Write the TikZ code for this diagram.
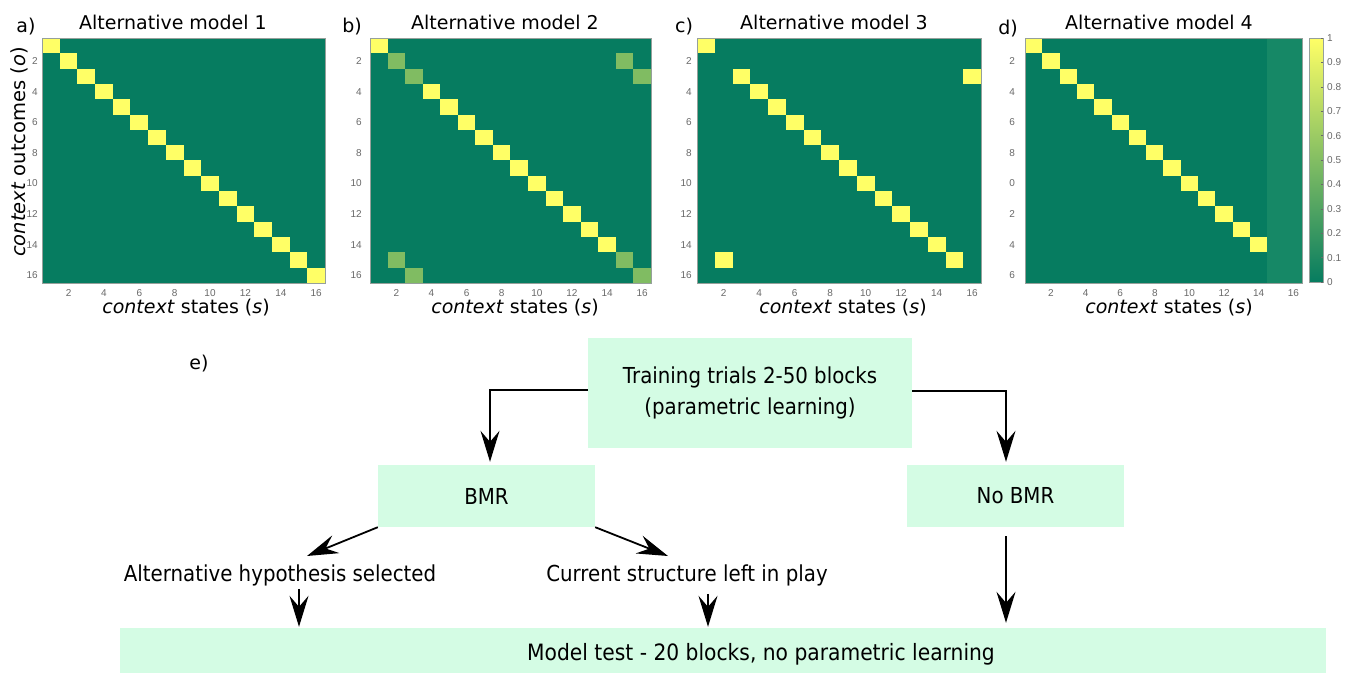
\documentclass[tikz,border=0pt]{standalone}
\usepackage{fontspec}
\setmainfont{DejaVu Sans}
\newfontfamily\flowfont[FakeStretch=0.9]{DejaVu Sans}
\newfontfamily\tickfont{Liberation Sans}
\usetikzlibrary{arrows.meta,calc}

% summer colour map end points and intermediate values
\definecolor{mzero}{RGB}{6,124,96}
\definecolor{mone}{RGB}{255,255,102}
\definecolor{mhalf}{RGB}{128,188,98}
\definecolor{mlow}{RGB}{22,136,102}
\definecolor{boxfill}{RGB}{212,252,228}
\definecolor{ticktext}{RGB}{105,105,105}
\definecolor{frame}{RGB}{150,160,155}

\tikzset{
  paneltitle/.style={font=\fontsize{19}{22}\selectfont, inner sep=0pt},
  panelletter/.style={font=\fontsize{19}{22}\selectfont, inner sep=0pt},
  axislabel/.style={font=\fontsize{19}{22}\selectfont, inner sep=0pt},
  ylabelstyle/.style={font=\fontsize{19.5}{22}\selectfont, inner sep=0pt, rotate=90},
  xtick/.style={font=\tickfont\fontsize{10}{12}\selectfont, text=ticktext, inner sep=0pt, yshift=-10pt},
  ytick/.style={font=\tickfont\fontsize{10}{12}\selectfont, text=ticktext, inner sep=0pt, anchor=east},
  cbtick/.style={font=\tickfont\fontsize{10}{12}\selectfont, text=ticktext, inner sep=0pt, anchor=west},
  axisframe/.style={draw=frame, line width=0.6pt},
  flowbox/.style={fill=boxfill, draw=none, inner sep=0pt, align=center,
                  font=\flowfont\fontsize{22}{31}\selectfont},
  flowtext/.style={inner sep=3pt, font=\flowfont\fontsize{22}{26}\selectfont},
  arr/.style={draw=black, line width=1.8pt,
              -{Stealth[length=31pt, width=19pt, inset=11pt]}},
}

\begin{document}
\begin{tikzpicture}[x=1pt, y=-1pt]
\useasboundingbox (0,0) rectangle (1346,672);
\fill[white] (0,0) rectangle (1346,672);

% ---------------- panel a: identity mapping ----------------
\begin{scope}[shift={(42,38)}, x=17.69pt, y=-15.31pt]
  \fill[mzero] (0,0) rectangle (16,16);
  \foreach \k in {1,...,16} \fill[mone] (\k-1,\k-1) rectangle (\k,\k);
  \draw[axisframe] (0,0) rectangle (16,16);
  \foreach \k in {2,4,...,16} {
    \node[xtick] (ax\k) at (\k-0.5,16) {\k};
    \node[ytick, xshift=-4pt] (ay\k) at (0,\k-0.5) {\k};
  }
\end{scope}
\node[paneltitle] (ta) at (173,22) {Alternative model 1};
\node[panelletter] (la) at (26,27) {a)};
\node[axislabel] (xa) at (186,308) {\textit{context} states (\textit{s})};
\node[ylabelstyle] (ya) at (19,152) {\textit{context} outcomes (\textit{o})};

% ---------------- panel b: split probability ----------------
\begin{scope}[shift={(370,38)}, x=17.56pt, y=-15.31pt]
  \fill[mzero] (0,0) rectangle (16,16);
  \foreach \k in {1,4,5,6,7,8,9,10,11,12,13,14}
    \fill[mone] (\k-1,\k-1) rectangle (\k,\k);
  \foreach \r/\c in {2/2,3/3,2/15,3/16,15/2,16/3,15/15,16/16}
    \fill[mhalf] (\c-1,\r-1) rectangle (\c,\r);
  \draw[axisframe] (0,0) rectangle (16,16);
  \foreach \k in {2,4,...,16} {
    \node[xtick] (bx\k) at (\k-0.5,16) {\k};
    \node[ytick, xshift=-8pt] (by\k) at (0,\k-0.5) {\k};
  }
\end{scope}
\node[paneltitle] (tb) at (505,22) {Alternative model 2};
\node[panelletter] (lb) at (352,27) {b)};
\node[axislabel] (xb) at (515,308) {\textit{context} states (\textit{s})};

% ---------------- panel c: swapped states ----------------
\begin{scope}[shift={(697,38)}, x=17.75pt, y=-15.31pt]
  \fill[mzero] (0,0) rectangle (16,16);
  \foreach \r/\c in {1/1,3/3,4/4,5/5,6/6,7/7,8/8,9/9,10/10,11/11,12/12,13/13,14/14,15/15,3/16,15/2}
    \fill[mone] (\c-1,\r-1) rectangle (\c,\r);
  \draw[axisframe] (0,0) rectangle (16,16);
  \foreach \k in {2,4,...,16} {
    \node[xtick] (cx\k) at (\k-0.5,16) {\k};
    \node[ytick, xshift=-5pt] (cy\k) at (0,\k-0.5) {\k};
  }
\end{scope}
\node[paneltitle] (tc) at (834,22) {Alternative model 3};
\node[panelletter] (lc) at (684,27) {c)};
\node[axislabel] (xc) at (843,308) {\textit{context} states (\textit{s})};

% ---------------- panel d: reduced state space ----------------
\begin{scope}[shift={(1025,38)}, x=17.31pt, y=-15.31pt]
  \fill[mzero] (0,0) rectangle (16,16);
  \fill[mlow] (14,0) rectangle (16,16);
  \foreach \k in {1,...,14} \fill[mone] (\k-1,\k-1) rectangle (\k,\k);
  \draw[axisframe] (0,0) rectangle (16,16);
  \foreach \k in {2,4,...,16}
    \node[xtick] (dx\k) at (\k-0.5,16) {\k};
  \foreach \k/\t in {2/2,4/4,6/6,8/8,10/0,12/2,14/4,16/6}
    \node[ytick, xshift=-10pt] (dy\k) at (0,\k-0.5) {\t};
\end{scope}
\node[paneltitle] (td) at (1159,22) {Alternative model 4};
\node[panelletter] (ld) at (1008,29) {d)};
\node[axislabel] (xd) at (1169,308) {\textit{context} states (\textit{s})};

% colour bar
\shade[bottom color=mzero, top color=mone] (1309,38) rectangle (1323,282);
\draw[axisframe] (1309,38) rectangle (1323,282);
\foreach \v/\t in {0/0,1/0.1,2/0.2,3/0.3,4/0.4,5/0.5,6/0.6,7/0.7,8/0.8,9/0.9,10/1} {
  \draw[ticktext, line width=0.5pt] (1323,282-24.4*\v) -- (1320.5,282-24.4*\v);
  \node[cbtick] (cb\v) at (1327,282-24.4*\v) {\t};
}

% ---------------- panel e: procedure ----------------
\node[panelletter] (le) at (199,364) {e)};

\node[flowbox, minimum width=324pt, minimum height=110pt] (train) at (750,393)
  {Training trials 2-50 blocks\\(parametric learning)};
\node[flowbox, minimum width=217pt, minimum height=62pt] (bmr) at (486.5,496) {BMR};
\node[flowbox, minimum width=217pt, minimum height=62pt] (nobmr) at (1015.5,496) {No BMR};
\node[flowtext] (alt) at (280,575) {Alternative hypothesis selected};
\node[flowtext] (cur) at (687,575) {Current structure left in play};
\node[flowbox, minimum width=1206pt, minimum height=52pt] (test) at (723,654) {};
\node[flowtext, font=\flowfont\fontsize{22.5}{26}\selectfont] (testlabel) at (761,654)
  {Model test - 20 blocks, no parametric learning};

\coordinate (altin) at (307,556);
\coordinate (curin) at (668,556);

\draw[arr, shorten >=3pt] ([yshift=3pt]train.west) -| ([xshift=3.5pt]bmr.north);
\draw[arr, shorten >=3pt] ([yshift=2pt]train.east) -| ([xshift=-9.5pt]nobmr.north);
\draw[arr] (bmr.south west) -- (altin);
\draw[arr] (bmr.south east) -- (curin);
\draw[arr, shorten >=1pt] ([xshift=19pt]alt.south) -- ([xshift=19pt]alt.south |- test.north);
\draw[arr, shorten <=5pt, shorten >=1pt] ([xshift=21pt]cur.south) -- ([xshift=21pt]cur.south |- test.north);
\draw[arr, shorten <=9pt, shorten >=5pt] ([xshift=-9.5pt]nobmr.south) -- ([xshift=-9.5pt]nobmr.south |- test.north);
\end{tikzpicture}
\end{document}
